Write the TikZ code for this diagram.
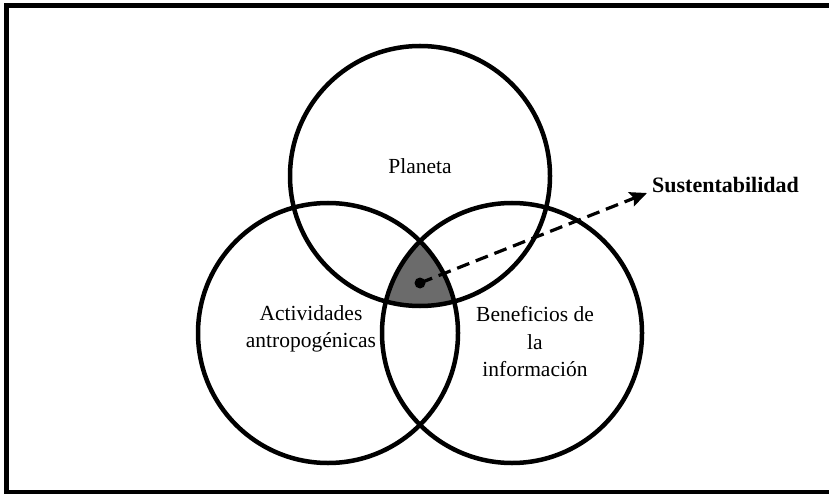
\documentclass[tikz,border=0pt]{standalone}
\usepackage{fontspec}
\setmainfont{Liberation Serif}
\usetikzlibrary{arrows.meta}

\begin{document}
\begin{tikzpicture}[x=1pt,y=-1pt,
        ring/.style={line width=4.5pt},
        label/.style={align=center,inner sep=0pt,font=\fontsize{21.5}{27.5}\selectfont}]
        \useasboundingbox (0,0) rectangle (829,494);
        % Frame (open at the right side)
        \draw[line width=5pt] (840,5.5) -- (6.5,5.5) -- (6.5,492) -- (840,492);

        % Circle centres
        \coordinate (planeta) at (420,176);
        \coordinate (activ) at (328,333);
        \coordinate (benef) at (512,333);

        % Common area
        \begin{scope}
            \clip (planeta) circle[radius=130pt];
            \clip (activ) circle[radius=130pt];
            \fill[black!58] (benef) circle[radius=130pt];
        \end{scope}

        \draw[ring] (planeta) circle[radius=130pt];
        \draw[ring] (activ) circle[radius=130pt];
        \draw[ring] (benef) circle[radius=130pt];

        % Texts
        \node[label] (tplaneta) at (420,166) {Planeta};
        \node[label] (tactiv) at (311,329) {Actividades\\antropogénicas};
        \node[label] (tbenef) at (535,342) {Beneficios de\\la\\información};
        \node[label,anchor=west,font=\fontsize{22}{26}\selectfont\bfseries] (sust) at (652,185) {Sustentabilidad};

        % Pointer
        \node[circle,fill=black,inner sep=0pt,minimum size=11pt] (dot) at (420,283) {};
        \coordinate (tip) at (647,193);
        \draw[line width=3.2pt,dash pattern=on 13pt off 7pt,-{Stealth[length=17pt,width=15pt,inset=3pt]}] (dot.center) -- (tip);
\end{tikzpicture}
\end{document}
